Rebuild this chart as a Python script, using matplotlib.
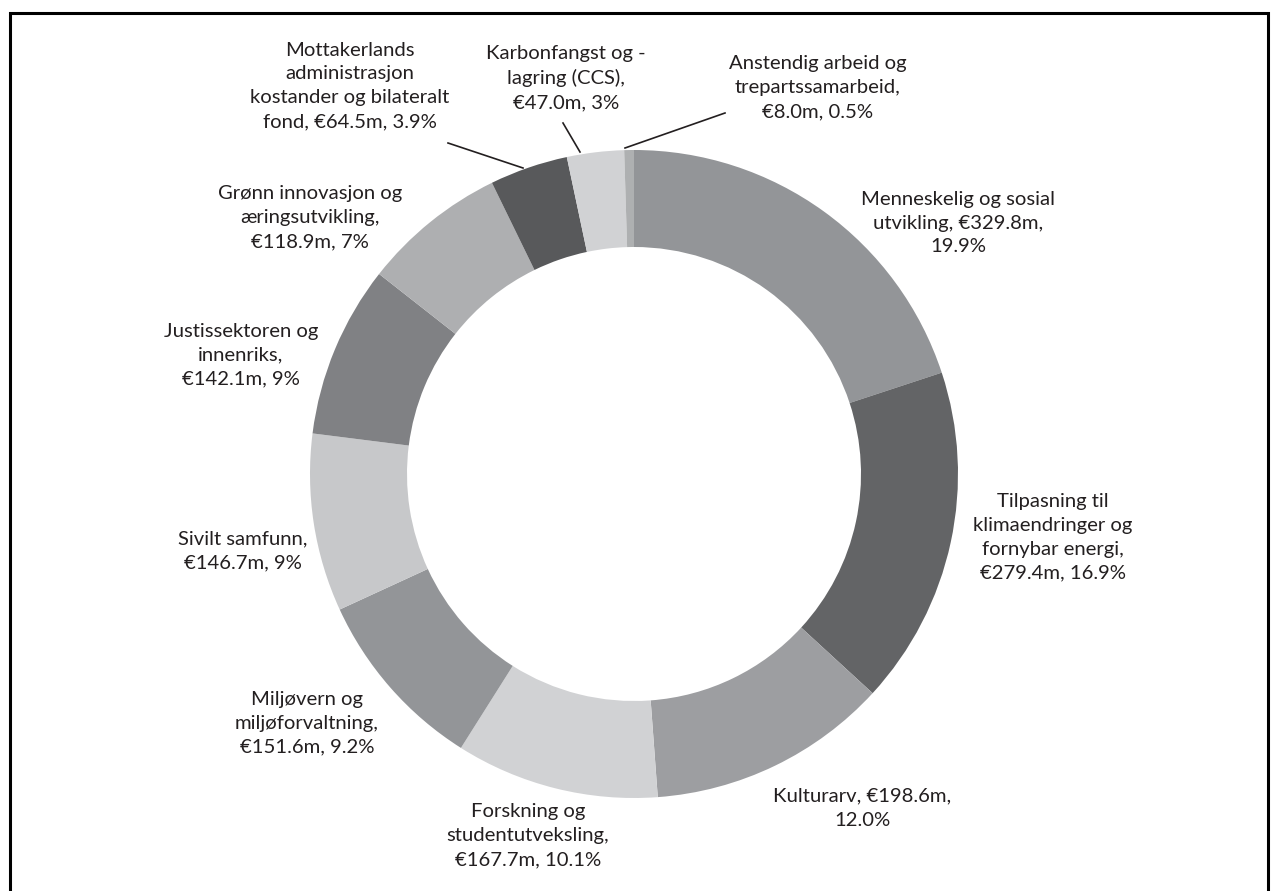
import matplotlib.pyplot as plt
from matplotlib.patches import Rectangle

# Andel per programområde (mill. euro), med klokka fra toppen
labels = [
    'Menneskelig og sosial\nutvikling, €329.8m,\n19.9%',
    'Tilpasning til\nklimaendringer og\nfornybar energi,\n€279.4m, 16.9%',
    'Kulturarv, €198.6m,\n12.0%',
    'Forskning og\nstudentutveksling,\n€167.7m, 10.1%',
    'Miljøvern og\nmiljøforvaltning,\n€151.6m, 9.2%',
    'Sivilt samfunn,\n€146.7m, 9%',
    'Justissektoren og\ninnenriks,\n€142.1m, 9%',
    'Grønn innovasjon og\næringsutvikling,\n€118.9m, 7%',
    'Mottakerlands\nadministrasjon\nkostander og bilateralt\nfond, €64.5m, 3.9%',
    'Karbonfangst og -\nlagring (CCS),\n€47.0m, 3%',
    'Anstendig arbeid og\ntrepartssamarbeid,\n€8.0m, 0.5%',
]
values = [329.8, 279.4, 198.6, 167.7, 151.6, 146.7, 142.1, 118.9, 64.5, 47.0, 8.0]
colors = ['#939598', '#636466', '#9d9ea1', '#d1d2d4', '#939598', '#c7c8ca',
          '#808184', '#aeafb1', '#58595b', '#d1d2d4', '#aeb0b1']

# etikettplassering i piksler (x, y fra toppen)
label_pos = [(958, 223), (1053, 537), (862, 808), (528, 836), (307, 723),
             (243, 551), (241, 355), (310, 218), (350, 86), (566, 78), (818, 88)]
# ledelinjer for de små sektorene: (etikett-ende, sektor-ende)
leaders = {8: ((448, 143), (523, 168)), 9: ((563, 123), (580, 152)),
           10: ((725, 113), (625, 148))}

W, H = 1276, 891
plt.rcParams['font.family'] = ['Lato', 'DejaVu Sans']

fig = plt.figure(figsize=(W / 100, H / 100), dpi=100)
ax = fig.add_axes([0, 0, 1, 1])

cx, cy, r = 634, H - 474, 324
ax.pie(values, colors=colors, startangle=90, counterclock=False,
       center=(cx, cy), radius=r, frame=True,
       wedgeprops=dict(width=97, linewidth=0))
ax.set_xlim(0, W)
ax.set_ylim(0, H)
ax.axis('off')

# skriftstørrelse slik at "Grønn innovasjon og" blir ca. 185 px bred
rend = fig.canvas.get_renderer()
t = ax.text(0, 0, 'Grønn innovasjon og', fontsize=10)
fs = 10 * 185 / t.get_window_extent(rend).width
t.remove()
t1 = ax.text(0, 0, 'A', fontsize=fs, linespacing=1)
t3 = ax.text(0, 0, 'A\nA\nA', fontsize=fs, linespacing=1)
pitch = (t3.get_window_extent(rend).height - t1.get_window_extent(rend).height) / 2
t1.remove()
t3.remove()
ls = 25.5 / pitch

for i, (lab, (x, y)) in enumerate(zip(labels, label_pos)):
    ax.text(x, H - y, lab, ha='center', va='center', fontsize=fs,
            color='#231f20', linespacing=ls)
    if i in leaders:
        (x0, y0), (x1, y1) = leaders[i]
        ax.plot([x0, x1], [H - y0, H - y1], color='#231f20', lw=1.2)

# ramme rundt figuren (åpen i bunnen)
ax.add_patch(Rectangle((10, -20), 1258, H - 13 + 20, fill=False,
                       edgecolor='black', lw=2.2, clip_on=False))

plt.savefig('out.png', dpi=100)
